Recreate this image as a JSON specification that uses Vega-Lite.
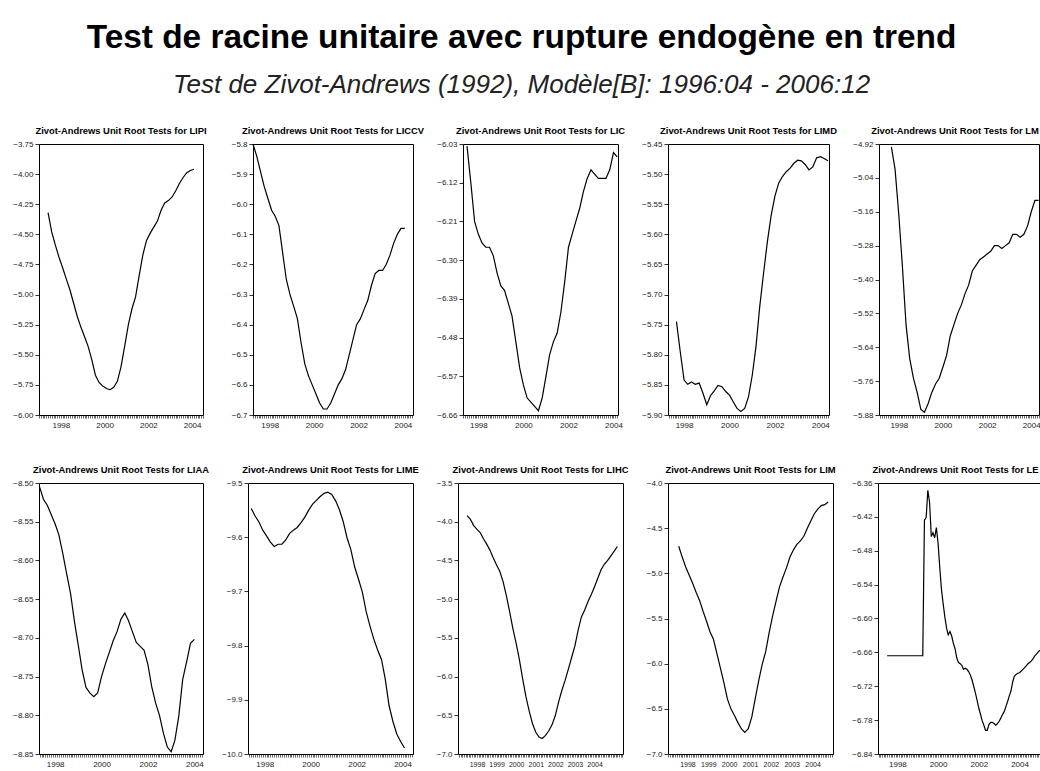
{
"$schema": "https://vega.github.io/schema/vega-lite/v6.json",
"background": "white",
"padding": {"left": 12, "top": 20, "right": 0, "bottom": 0},
"title": {"text": "Test de racine unitaire avec rupture endogène en trend", "subtitle": "Test de Zivot-Andrews (1992), Modèle[B]: 1996:04 - 2006:12", "anchor": "middle", "dx": -6, "font": "Liberation Sans", "fontSize": 33.4, "fontWeight": "bold", "color": "#000", "subtitleFont": "Liberation Sans", "subtitleFontSize": 26, "subtitleFontStyle": "italic", "subtitleColor": "#222", "subtitlePadding": 17, "offset": 26},
"config": {
  "view": {"stroke": "#000", "strokeWidth": 1},
  "title": {"font": "Liberation Sans", "fontSize": 9.4, "fontWeight": "bold", "color": "#000", "offset": 4, "anchor": "middle"},
  "line": {"color": "#000", "strokeWidth": 1.2},
  "axisX": {"grid": false, "domain": false, "tickCount": {"interval": "month", "step": 1}, "tickSize": 3, "tickWidth": 0.6, "tickColor": "#000", "labelExpr": "utcmonth(datum.value) == 0 && utcyear(datum.value) % 2 == 0 ? utcFormat(datum.value, '%Y') : ''", "labelOverlap": false, "labelFlush": false, "labelFontSize": 8, "labelFont": "Liberation Sans", "labelColor": "#222", "labelPadding": 3},
  "axisY": {"grid": false, "domain": false, "tickSize": 4, "tickWidth": 0.8, "tickColor": "#000", "labelFontSize": 8, "labelFont": "Liberation Sans", "labelColor": "#222", "labelPadding": 2}
},
"datasets": {
"LIPI": [{"d":"1997-06","v":-4.32},{"d":"1997-08","v":-4.48},{"d":"1997-10","v":-4.59},{"d":"1997-12","v":-4.69},{"d":"1998-02","v":-4.78},{"d":"1998-04","v":-4.87},{"d":"1998-06","v":-4.96},{"d":"1998-08","v":-5.07},{"d":"1998-10","v":-5.18},{"d":"1998-12","v":-5.27},{"d":"1999-02","v":-5.35},{"d":"1999-04","v":-5.43},{"d":"1999-06","v":-5.54},{"d":"1999-08","v":-5.67},{"d":"1999-10","v":-5.73},{"d":"1999-12","v":-5.76},{"d":"2000-02","v":-5.78},{"d":"2000-04","v":-5.79},{"d":"2000-06","v":-5.77},{"d":"2000-08","v":-5.72},{"d":"2000-10","v":-5.60},{"d":"2000-12","v":-5.43},{"d":"2001-02","v":-5.25},{"d":"2001-04","v":-5.12},{"d":"2001-06","v":-5.02},{"d":"2001-08","v":-4.84},{"d":"2001-10","v":-4.67},{"d":"2001-12","v":-4.55},{"d":"2002-02","v":-4.49},{"d":"2002-04","v":-4.44},{"d":"2002-06","v":-4.39},{"d":"2002-08","v":-4.30},{"d":"2002-10","v":-4.24},{"d":"2002-12","v":-4.22},{"d":"2003-02","v":-4.19},{"d":"2003-04","v":-4.14},{"d":"2003-06","v":-4.08},{"d":"2003-08","v":-4.03},{"d":"2003-10","v":-3.99},{"d":"2003-12","v":-3.97},{"d":"2004-02","v":-3.96}],
"LICCV": [{"d":"1997-04","v":-5.80},{"d":"1997-06","v":-5.84},{"d":"1997-08","v":-5.89},{"d":"1997-10","v":-5.94},{"d":"1997-12","v":-5.98},{"d":"1998-02","v":-6.02},{"d":"1998-04","v":-6.04},{"d":"1998-06","v":-6.07},{"d":"1998-08","v":-6.16},{"d":"1998-10","v":-6.25},{"d":"1998-12","v":-6.30},{"d":"1999-02","v":-6.34},{"d":"1999-04","v":-6.38},{"d":"1999-06","v":-6.46},{"d":"1999-08","v":-6.53},{"d":"1999-10","v":-6.57},{"d":"1999-12","v":-6.60},{"d":"2000-02","v":-6.63},{"d":"2000-04","v":-6.66},{"d":"2000-06","v":-6.68},{"d":"2000-08","v":-6.68},{"d":"2000-10","v":-6.66},{"d":"2000-12","v":-6.63},{"d":"2001-02","v":-6.60},{"d":"2001-04","v":-6.58},{"d":"2001-06","v":-6.55},{"d":"2001-08","v":-6.50},{"d":"2001-10","v":-6.45},{"d":"2001-12","v":-6.40},{"d":"2002-02","v":-6.38},{"d":"2002-04","v":-6.35},{"d":"2002-06","v":-6.32},{"d":"2002-08","v":-6.27},{"d":"2002-10","v":-6.23},{"d":"2002-12","v":-6.22},{"d":"2003-02","v":-6.22},{"d":"2003-04","v":-6.20},{"d":"2003-06","v":-6.17},{"d":"2003-08","v":-6.13},{"d":"2003-10","v":-6.10},{"d":"2003-12","v":-6.08},{"d":"2004-02","v":-6.08}],
"LIC": [{"d":"1997-07","v":-6.035},{"d":"1997-09","v":-6.12},{"d":"1997-11","v":-6.21},{"d":"1998-01","v":-6.24},{"d":"1998-03","v":-6.26},{"d":"1998-05","v":-6.27},{"d":"1998-07","v":-6.27},{"d":"1998-09","v":-6.29},{"d":"1998-11","v":-6.33},{"d":"1999-01","v":-6.36},{"d":"1999-03","v":-6.37},{"d":"1999-05","v":-6.40},{"d":"1999-07","v":-6.43},{"d":"1999-09","v":-6.49},{"d":"1999-11","v":-6.55},{"d":"2000-01","v":-6.59},{"d":"2000-03","v":-6.62},{"d":"2000-05","v":-6.63},{"d":"2000-07","v":-6.64},{"d":"2000-09","v":-6.65},{"d":"2000-11","v":-6.62},{"d":"2001-01","v":-6.57},{"d":"2001-03","v":-6.52},{"d":"2001-05","v":-6.49},{"d":"2001-07","v":-6.47},{"d":"2001-09","v":-6.42},{"d":"2001-11","v":-6.35},{"d":"2002-01","v":-6.27},{"d":"2002-03","v":-6.24},{"d":"2002-05","v":-6.21},{"d":"2002-07","v":-6.18},{"d":"2002-09","v":-6.14},{"d":"2002-11","v":-6.11},{"d":"2003-01","v":-6.09},{"d":"2003-03","v":-6.10},{"d":"2003-05","v":-6.11},{"d":"2003-07","v":-6.11},{"d":"2003-09","v":-6.11},{"d":"2003-11","v":-6.09},{"d":"2004-01","v":-6.05},{"d":"2004-03","v":-6.06}],
"LIMD": [{"d":"1997-09","v":-5.745},{"d":"1997-11","v":-5.795},{"d":"1998-01","v":-5.842},{"d":"1998-03","v":-5.849},{"d":"1998-05","v":-5.845},{"d":"1998-07","v":-5.849},{"d":"1998-09","v":-5.847},{"d":"1998-11","v":-5.864},{"d":"1999-01","v":-5.883},{"d":"1999-03","v":-5.868},{"d":"1999-05","v":-5.860},{"d":"1999-07","v":-5.851},{"d":"1999-09","v":-5.853},{"d":"1999-11","v":-5.861},{"d":"2000-01","v":-5.867},{"d":"2000-03","v":-5.878},{"d":"2000-05","v":-5.889},{"d":"2000-07","v":-5.894},{"d":"2000-09","v":-5.889},{"d":"2000-11","v":-5.870},{"d":"2001-01","v":-5.834},{"d":"2001-03","v":-5.787},{"d":"2001-05","v":-5.720},{"d":"2001-07","v":-5.665},{"d":"2001-09","v":-5.612},{"d":"2001-11","v":-5.568},{"d":"2002-01","v":-5.536},{"d":"2002-03","v":-5.515},{"d":"2002-05","v":-5.504},{"d":"2002-07","v":-5.496},{"d":"2002-09","v":-5.490},{"d":"2002-11","v":-5.482},{"d":"2003-01","v":-5.477},{"d":"2003-03","v":-5.478},{"d":"2003-05","v":-5.484},{"d":"2003-07","v":-5.493},{"d":"2003-09","v":-5.488},{"d":"2003-11","v":-5.473},{"d":"2004-01","v":-5.471},{"d":"2004-03","v":-5.474},{"d":"2004-05","v":-5.478}],
"LM": [{"d":"1997-09","v":-4.93},{"d":"1997-11","v":-5.01},{"d":"1998-01","v":-5.17},{"d":"1998-03","v":-5.35},{"d":"1998-05","v":-5.56},{"d":"1998-07","v":-5.68},{"d":"1998-09","v":-5.75},{"d":"1998-11","v":-5.80},{"d":"1999-01","v":-5.86},{"d":"1999-03","v":-5.87},{"d":"1999-05","v":-5.84},{"d":"1999-07","v":-5.80},{"d":"1999-09","v":-5.77},{"d":"1999-11","v":-5.75},{"d":"2000-01","v":-5.71},{"d":"2000-03","v":-5.67},{"d":"2000-05","v":-5.60},{"d":"2000-07","v":-5.56},{"d":"2000-09","v":-5.52},{"d":"2000-11","v":-5.49},{"d":"2001-01","v":-5.45},{"d":"2001-03","v":-5.42},{"d":"2001-05","v":-5.37},{"d":"2001-07","v":-5.35},{"d":"2001-09","v":-5.33},{"d":"2001-11","v":-5.32},{"d":"2002-01","v":-5.31},{"d":"2002-03","v":-5.30},{"d":"2002-05","v":-5.28},{"d":"2002-07","v":-5.28},{"d":"2002-09","v":-5.29},{"d":"2002-11","v":-5.28},{"d":"2003-01","v":-5.27},{"d":"2003-03","v":-5.24},{"d":"2003-05","v":-5.24},{"d":"2003-07","v":-5.25},{"d":"2003-09","v":-5.24},{"d":"2003-11","v":-5.21},{"d":"2004-01","v":-5.16},{"d":"2004-03","v":-5.12},{"d":"2004-05","v":-5.12}],
"LIAA": [{"d":"1997-05","v":-8.505},{"d":"1997-07","v":-8.521},{"d":"1997-09","v":-8.529},{"d":"1997-11","v":-8.541},{"d":"1998-01","v":-8.553},{"d":"1998-03","v":-8.567},{"d":"1998-05","v":-8.591},{"d":"1998-07","v":-8.617},{"d":"1998-09","v":-8.643},{"d":"1998-11","v":-8.679},{"d":"1999-01","v":-8.710},{"d":"1999-03","v":-8.741},{"d":"1999-05","v":-8.764},{"d":"1999-07","v":-8.771},{"d":"1999-09","v":-8.776},{"d":"1999-11","v":-8.771},{"d":"2000-01","v":-8.750},{"d":"2000-03","v":-8.734},{"d":"2000-05","v":-8.719},{"d":"2000-07","v":-8.704},{"d":"2000-09","v":-8.692},{"d":"2000-11","v":-8.676},{"d":"2001-01","v":-8.668},{"d":"2001-03","v":-8.678},{"d":"2001-05","v":-8.692},{"d":"2001-07","v":-8.706},{"d":"2001-09","v":-8.711},{"d":"2001-11","v":-8.716},{"d":"2002-01","v":-8.735},{"d":"2002-03","v":-8.763},{"d":"2002-05","v":-8.784},{"d":"2002-07","v":-8.800},{"d":"2002-09","v":-8.823},{"d":"2002-11","v":-8.841},{"d":"2003-01","v":-8.847},{"d":"2003-03","v":-8.832},{"d":"2003-05","v":-8.801},{"d":"2003-07","v":-8.754},{"d":"2003-09","v":-8.731},{"d":"2003-11","v":-8.707},{"d":"2004-01","v":-8.702}],
"LIME": [{"d":"1997-06","v":-9.547},{"d":"1997-08","v":-9.561},{"d":"1997-10","v":-9.572},{"d":"1997-12","v":-9.587},{"d":"1998-02","v":-9.598},{"d":"1998-04","v":-9.609},{"d":"1998-06","v":-9.617},{"d":"1998-08","v":-9.613},{"d":"1998-10","v":-9.613},{"d":"1998-12","v":-9.605},{"d":"1999-02","v":-9.593},{"d":"1999-04","v":-9.587},{"d":"1999-06","v":-9.582},{"d":"1999-08","v":-9.573},{"d":"1999-10","v":-9.563},{"d":"1999-12","v":-9.550},{"d":"2000-02","v":-9.539},{"d":"2000-04","v":-9.532},{"d":"2000-06","v":-9.525},{"d":"2000-08","v":-9.519},{"d":"2000-10","v":-9.517},{"d":"2000-12","v":-9.521},{"d":"2001-02","v":-9.533},{"d":"2001-04","v":-9.549},{"d":"2001-06","v":-9.571},{"d":"2001-08","v":-9.601},{"d":"2001-10","v":-9.623},{"d":"2001-12","v":-9.655},{"d":"2002-02","v":-9.678},{"d":"2002-04","v":-9.701},{"d":"2002-06","v":-9.737},{"d":"2002-08","v":-9.764},{"d":"2002-10","v":-9.788},{"d":"2002-12","v":-9.808},{"d":"2003-02","v":-9.826},{"d":"2003-04","v":-9.862},{"d":"2003-06","v":-9.911},{"d":"2003-08","v":-9.940},{"d":"2003-10","v":-9.963},{"d":"2003-12","v":-9.977},{"d":"2004-02","v":-9.989}],
"LIHC": [{"d":"1997-07","v":-3.92},{"d":"1997-09","v":-3.97},{"d":"1997-11","v":-4.05},{"d":"1998-01","v":-4.10},{"d":"1998-03","v":-4.14},{"d":"1998-05","v":-4.22},{"d":"1998-07","v":-4.29},{"d":"1998-09","v":-4.37},{"d":"1998-11","v":-4.47},{"d":"1999-01","v":-4.56},{"d":"1999-03","v":-4.64},{"d":"1999-05","v":-4.77},{"d":"1999-07","v":-4.95},{"d":"1999-09","v":-5.16},{"d":"1999-11","v":-5.38},{"d":"2000-01","v":-5.57},{"d":"2000-03","v":-5.78},{"d":"2000-05","v":-6.03},{"d":"2000-07","v":-6.26},{"d":"2000-09","v":-6.45},{"d":"2000-11","v":-6.61},{"d":"2001-01","v":-6.72},{"d":"2001-03","v":-6.78},{"d":"2001-05","v":-6.80},{"d":"2001-07","v":-6.76},{"d":"2001-09","v":-6.70},{"d":"2001-11","v":-6.62},{"d":"2002-01","v":-6.50},{"d":"2002-03","v":-6.33},{"d":"2002-05","v":-6.18},{"d":"2002-07","v":-6.05},{"d":"2002-09","v":-5.90},{"d":"2002-11","v":-5.75},{"d":"2003-01","v":-5.60},{"d":"2003-03","v":-5.40},{"d":"2003-05","v":-5.23},{"d":"2003-07","v":-5.14},{"d":"2003-09","v":-5.03},{"d":"2003-11","v":-4.94},{"d":"2004-01","v":-4.84},{"d":"2004-03","v":-4.73},{"d":"2004-05","v":-4.62},{"d":"2004-07","v":-4.55},{"d":"2004-09","v":-4.50},{"d":"2004-11","v":-4.44},{"d":"2005-01","v":-4.38},{"d":"2005-03","v":-4.32}],
"LIM": [{"d":"1997-08","v":-4.70},{"d":"1997-10","v":-4.82},{"d":"1997-12","v":-4.93},{"d":"1998-02","v":-5.02},{"d":"1998-04","v":-5.11},{"d":"1998-06","v":-5.21},{"d":"1998-08","v":-5.30},{"d":"1998-10","v":-5.42},{"d":"1998-12","v":-5.53},{"d":"1999-02","v":-5.65},{"d":"1999-04","v":-5.73},{"d":"1999-06","v":-5.89},{"d":"1999-08","v":-6.05},{"d":"1999-10","v":-6.21},{"d":"1999-12","v":-6.39},{"d":"2000-02","v":-6.50},{"d":"2000-04","v":-6.57},{"d":"2000-06","v":-6.65},{"d":"2000-08","v":-6.72},{"d":"2000-10","v":-6.76},{"d":"2000-12","v":-6.72},{"d":"2001-02","v":-6.59},{"d":"2001-04","v":-6.39},{"d":"2001-06","v":-6.19},{"d":"2001-08","v":-6.01},{"d":"2001-10","v":-5.87},{"d":"2001-12","v":-5.66},{"d":"2002-02","v":-5.47},{"d":"2002-04","v":-5.31},{"d":"2002-06","v":-5.15},{"d":"2002-08","v":-5.04},{"d":"2002-10","v":-4.94},{"d":"2002-12","v":-4.82},{"d":"2003-02","v":-4.74},{"d":"2003-04","v":-4.68},{"d":"2003-06","v":-4.64},{"d":"2003-08","v":-4.59},{"d":"2003-10","v":-4.50},{"d":"2003-12","v":-4.42},{"d":"2004-02","v":-4.34},{"d":"2004-04","v":-4.29},{"d":"2004-06","v":-4.25},{"d":"2004-08","v":-4.24},{"d":"2004-10","v":-4.21}],
"LE": [{"d":"1997-07","v":-6.666},{"d":"1997-08","v":-6.666},{"d":"1997-09","v":-6.666},{"d":"1997-10","v":-6.666},{"d":"1997-11","v":-6.666},{"d":"1997-12","v":-6.666},{"d":"1998-01","v":-6.666},{"d":"1998-02","v":-6.666},{"d":"1998-03","v":-6.666},{"d":"1998-04","v":-6.666},{"d":"1998-05","v":-6.666},{"d":"1998-06","v":-6.666},{"d":"1998-07","v":-6.666},{"d":"1998-08","v":-6.666},{"d":"1998-09","v":-6.666},{"d":"1998-10","v":-6.666},{"d":"1998-11","v":-6.666},{"d":"1998-12","v":-6.666},{"d":"1999-01","v":-6.666},{"d":"1999-02","v":-6.666},{"d":"1999-03","v":-6.666},{"d":"1999-04","v":-6.666},{"d":"1999-05","v":-6.426},{"d":"1999-06","v":-6.421},{"d":"1999-07","v":-6.373},{"d":"1999-08","v":-6.394},{"d":"1999-09","v":-6.455},{"d":"1999-10","v":-6.448},{"d":"1999-11","v":-6.457},{"d":"1999-12","v":-6.439},{"d":"2000-01","v":-6.467},{"d":"2000-02","v":-6.511},{"d":"2000-03","v":-6.548},{"d":"2000-04","v":-6.574},{"d":"2000-05","v":-6.597},{"d":"2000-06","v":-6.617},{"d":"2000-07","v":-6.629},{"d":"2000-08","v":-6.623},{"d":"2000-09","v":-6.631},{"d":"2000-10","v":-6.644},{"d":"2000-11","v":-6.654},{"d":"2000-12","v":-6.670},{"d":"2001-01","v":-6.678},{"d":"2001-02","v":-6.680},{"d":"2001-03","v":-6.683},{"d":"2001-04","v":-6.690},{"d":"2001-05","v":-6.688},{"d":"2001-06","v":-6.690},{"d":"2001-07","v":-6.694},{"d":"2001-08","v":-6.700},{"d":"2001-09","v":-6.709},{"d":"2001-10","v":-6.720},{"d":"2001-11","v":-6.732},{"d":"2001-12","v":-6.745},{"d":"2002-01","v":-6.759},{"d":"2002-02","v":-6.770},{"d":"2002-03","v":-6.781},{"d":"2002-04","v":-6.789},{"d":"2002-05","v":-6.798},{"d":"2002-06","v":-6.798},{"d":"2002-07","v":-6.788},{"d":"2002-08","v":-6.784},{"d":"2002-09","v":-6.784},{"d":"2002-10","v":-6.786},{"d":"2002-11","v":-6.789},{"d":"2002-12","v":-6.786},{"d":"2003-01","v":-6.782},{"d":"2003-02","v":-6.776},{"d":"2003-03","v":-6.770},{"d":"2003-04","v":-6.765},{"d":"2003-05","v":-6.756},{"d":"2003-06","v":-6.747},{"d":"2003-07","v":-6.737},{"d":"2003-08","v":-6.728},{"d":"2003-09","v":-6.712},{"d":"2003-10","v":-6.702},{"d":"2003-11","v":-6.699},{"d":"2003-12","v":-6.697},{"d":"2004-01","v":-6.696},{"d":"2004-02","v":-6.693},{"d":"2004-03","v":-6.690},{"d":"2004-04","v":-6.687},{"d":"2004-05","v":-6.684},{"d":"2004-06","v":-6.680},{"d":"2004-07","v":-6.678},{"d":"2004-08","v":-6.675},{"d":"2004-09","v":-6.671},{"d":"2004-10","v":-6.666},{"d":"2004-11","v":-6.663},{"d":"2004-12","v":-6.659},{"d":"2005-01","v":-6.656}]
},
"spacing": 34,
"vconcat": [
{"spacing": 50, "bounds": "flush", "hconcat": [
 {"data": {"name": "LIPI"}, "width": 164, "height": 271, "title": "Zivot-Andrews Unit Root Tests for LIPI", "mark": "line",
  "encoding": {"x": {"field": "d", "type": "temporal", "scale": {"type": "utc", "domain": [{"year":1997,"month":1,"date":1,"utc":true},{"year":2004,"month":7,"date":1,"utc":true}]}, "axis": {"title": null}},
   "y": {"field": "v", "type": "quantitative", "scale": {"domain": [-6, -3.75], "nice": false, "zero": false}, "axis": {"title": null, "values": [-6,-5.75,-5.5,-5.25,-5,-4.75,-4.5,-4.25,-4,-3.75], "format": ".2f"}}}},
 {"data": {"name": "LICCV"}, "width": 160, "height": 271, "title": "Zivot-Andrews Unit Root Tests for LICCV", "mark": "line",
  "encoding": {"x": {"field": "d", "type": "temporal", "scale": {"type": "utc", "domain": [{"year":1997,"month":4,"date":1,"utc":true},{"year":2004,"month":6,"date":15,"utc":true}]}, "axis": {"title": null}},
   "y": {"field": "v", "type": "quantitative", "scale": {"domain": [-6.7, -5.8], "nice": false, "zero": false}, "axis": {"title": null, "values": [-6.7,-6.6,-6.5,-6.4,-6.3,-6.2,-6.1,-6.0,-5.9,-5.8], "format": ".1f"}}}},
 {"data": {"name": "LIC"}, "width": 155, "height": 271, "title": "Zivot-Andrews Unit Root Tests for LIC", "mark": "line",
  "encoding": {"x": {"field": "d", "type": "temporal", "scale": {"type": "utc", "domain": [{"year":1997,"month":4,"date":27,"utc":true},{"year":2004,"month":3,"date":14,"utc":true}]}, "axis": {"title": null}},
   "y": {"field": "v", "type": "quantitative", "scale": {"domain": [-6.66, -6.03], "nice": false, "zero": false}, "axis": {"title": null, "values": [-6.66,-6.57,-6.48,-6.39,-6.30,-6.21,-6.12,-6.03], "format": ".2f"}}}},
 {"data": {"name": "LIMD"}, "width": 161, "height": 271, "title": "Zivot-Andrews Unit Root Tests for LIMD", "mark": "line",
  "encoding": {"x": {"field": "d", "type": "temporal", "scale": {"type": "utc", "domain": [{"year":1997,"month":4,"date":18,"utc":true},{"year":2004,"month":5,"date":18,"utc":true}]}, "axis": {"title": null}},
   "y": {"field": "v", "type": "quantitative", "scale": {"domain": [-5.9, -5.45], "nice": false, "zero": false}, "axis": {"title": null, "values": [-5.9,-5.85,-5.8,-5.75,-5.7,-5.65,-5.6,-5.55,-5.5,-5.45], "format": ".2f"}}}},
 {"data": {"name": "LM"}, "width": 160, "height": 271, "title": {"text": "Zivot-Andrews Unit Root Tests for LM", "dx": -4}, "mark": "line",
  "encoding": {"x": {"field": "d", "type": "temporal", "scale": {"type": "utc", "domain": [{"year":1997,"month":2,"date":8,"utc":true},{"year":2004,"month":5,"date":8,"utc":true}]}, "axis": {"title": null}},
   "y": {"field": "v", "type": "quantitative", "scale": {"domain": [-5.88, -4.92], "nice": false, "zero": false}, "axis": {"title": null, "values": [-5.88,-5.76,-5.64,-5.52,-5.40,-5.28,-5.16,-5.04,-4.92], "format": ".2f"}}}}
]},
{"spacing": 45, "bounds": "flush", "hconcat": [
 {"data": {"name": "LIAA"}, "width": 164, "height": 271, "title": "Zivot-Andrews Unit Root Tests for LIAA", "mark": "line",
  "encoding": {"x": {"field": "d", "type": "temporal", "scale": {"type": "utc", "domain": [{"year":1997,"month":4,"date":22,"utc":true},{"year":2004,"month":5,"date":16,"utc":true}]}, "axis": {"title": null}},
   "y": {"field": "v", "type": "quantitative", "scale": {"domain": [-8.85, -8.5], "nice": false, "zero": false}, "axis": {"title": null, "values": [-8.85,-8.8,-8.75,-8.7,-8.65,-8.6,-8.55,-8.5], "format": ".2f"}}}},
 {"data": {"name": "LIME"}, "width": 165, "height": 271, "title": "Zivot-Andrews Unit Root Tests for LIME", "mark": "line",
  "encoding": {"x": {"field": "d", "type": "temporal", "scale": {"type": "utc", "domain": [{"year":1997,"month":4,"date":10,"utc":true},{"year":2004,"month":6,"date":15,"utc":true}]}, "axis": {"title": null}},
   "y": {"field": "v", "type": "quantitative", "scale": {"domain": [-10, -9.5], "nice": false, "zero": false}, "axis": {"title": null, "values": [-10,-9.9,-9.8,-9.7,-9.6,-9.5], "format": ".1f"}}}},
 {"data": {"name": "LIHC"}, "width": 165, "height": 271, "title": "Zivot-Andrews Unit Root Tests for LIHC", "mark": "line",
  "encoding": {"x": {"field": "d", "type": "temporal", "scale": {"type": "utc", "domain": [{"year":1997,"month":1,"date":12,"utc":true},{"year":2005,"month":6,"date":14,"utc":true}]}, "axis": {"title": null, "labelFontSize": 7, "labelExpr": "utcmonth(datum.value) == 0 && utcyear(datum.value) <= 2004 ? utcFormat(datum.value, '%Y') : ''"}},
   "y": {"field": "v", "type": "quantitative", "scale": {"domain": [-7, -3.5], "nice": false, "zero": false}, "axis": {"title": null, "values": [-7,-6.5,-6,-5.5,-5,-4.5,-4,-3.5], "format": ".1f"}}}},
 {"data": {"name": "LIM"}, "width": 165, "height": 271, "title": "Zivot-Andrews Unit Root Tests for LIM", "mark": "line",
  "encoding": {"x": {"field": "d", "type": "temporal", "scale": {"type": "utc", "domain": [{"year":1997,"month":1,"date":25,"utc":true},{"year":2004,"month":12,"date":24,"utc":true}]}, "axis": {"title": null, "labelFontSize": 7, "labelExpr": "utcmonth(datum.value) == 0 && utcyear(datum.value) <= 2004 ? utcFormat(datum.value, '%Y') : ''"}},
   "y": {"field": "v", "type": "quantitative", "scale": {"domain": [-7, -4], "nice": false, "zero": false}, "axis": {"title": null, "values": [-7,-6.5,-6,-5.5,-5,-4.5,-4], "format": ".1f"}}}},
 {"data": {"name": "LE"}, "width": 163, "height": 271, "title": {"text": "Zivot-Andrews Unit Root Tests for LE", "dx": -4}, "mark": "line",
  "encoding": {"x": {"field": "d", "type": "temporal", "scale": {"type": "utc", "domain": [{"year":1997,"month":1,"date":18,"utc":true},{"year":2005,"month":1,"date":20,"utc":true}]}, "axis": {"title": null}},
   "y": {"field": "v", "type": "quantitative", "scale": {"domain": [-6.84, -6.36], "nice": false, "zero": false}, "axis": {"title": null, "values": [-6.84,-6.78,-6.72,-6.66,-6.6,-6.54,-6.48,-6.42,-6.36], "format": ".2f"}}}}
]}
]
}
